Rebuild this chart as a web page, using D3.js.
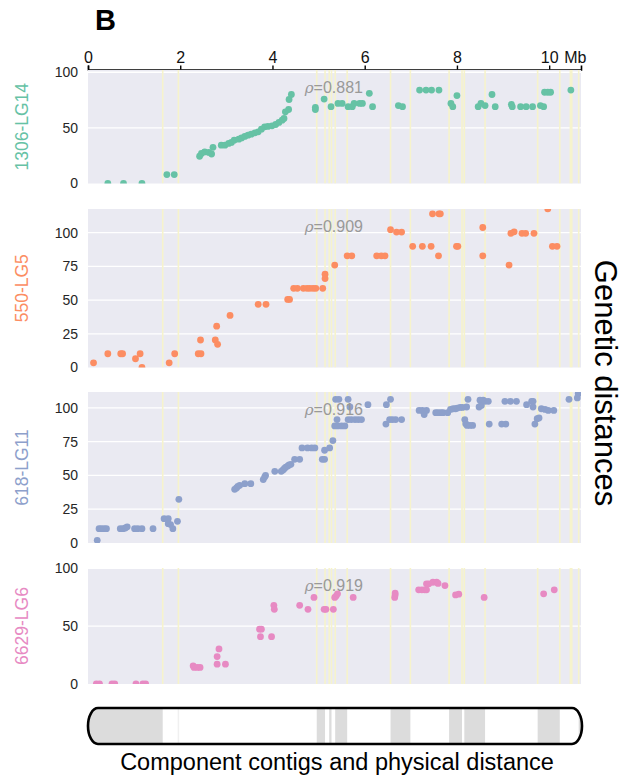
<!DOCTYPE html>
<html>
<head>
<meta charset="utf-8">
<script src="https://cdn.jsdelivr.net/npm/d3@7"></script>
<style>
  html, body { margin: 0; padding: 0; background: #fff; }
  svg { display: block; font-family: "Liberation Sans", Arial, Helvetica, sans-serif; }
</style>
</head>
<body>
<svg id="chart" width="631" height="783"></svg>
<script>
// Physical map (Mb) of the scaffold and its component contigs
const genomeLength = 10.69;
const axisTicks = [0, 2, 4, 6, 8, 10];
const contigBreaks = [1.62, 1.96, 4.96, 5.14, 5.23, 5.28, 5.36, 5.62, 6.56, 6.99,
                      7.83, 8.11, 8.16, 8.61, 9.75, 10.23, 10.46, 10.49, 10.64];
const shadedContigs = [[0, 1.62], [4.96, 5.14], [5.23, 5.28], [5.36, 5.62], [6.56, 6.99],
                       [7.83, 8.11], [8.16, 8.61], [9.75, 10.23], [10.64, 10.69]];

// Linkage groups
const groupNames = ["1306-LG14", "550-LG5", "618-LG11", "6629-LG6"];
const groupColors = ["#66c2a5", "#fc8d62", "#8da0cb", "#e78ac3"];
const groupRho = ["0.881", "0.909", "0.916", "0.919"];
const groupMax = [102, 117.5, 111.7, 100.3];
const groupTicks = [[0, 50, 100], [0, 25, 50, 75, 100], [0, 25, 50, 75, 100], [0, 50, 100]];

// Marker positions: [physical Mb, genetic cM]
const lg14 = [
  [0.43, 0], [0.77, 0], [1.17, 0], [1.71, 8], [1.87, 8],
  [2.42, 24.5], [2.46, 27], [2.53, 28.4], [2.62, 27.9], [2.68, 26.5], [2.71, 32.5],
  [2.89, 34.4], [2.97, 34.4], [3.05, 36], [3.11, 36.9], [3.17, 38.9], [3.27, 39.8],
  [3.33, 41], [3.40, 42.3], [3.47, 43.4], [3.54, 44.3], [3.62, 45.5], [3.69, 46.4],
  [3.76, 48.8], [3.83, 50.9], [3.90, 51.3], [3.99, 51.8], [4.07, 53], [4.14, 54.9],
  [4.21, 56.9], [4.25, 58.4], [4.28, 64.4], [4.35, 66.5], [4.36, 75.5], [4.41, 80],
  [4.93, 68.5], [4.93, 66.5], [5.12, 75.9], [5.27, 69], [5.42, 72], [5.51, 72],
  [5.64, 69], [5.73, 69], [5.77, 72], [5.89, 72], [5.95, 72], [6.10, 81], [6.17, 69],
  [6.73, 70], [6.82, 69], [7.19, 84], [7.33, 84], [7.45, 84], [7.61, 84],
  [7.87, 72], [7.91, 69], [8.00, 79], [8.46, 69], [8.52, 72], [8.61, 70], [8.76, 80],
  [8.83, 69], [9.18, 71], [9.20, 69], [9.38, 69], [9.50, 69], [9.64, 69], [9.81, 70],
  [9.88, 69], [9.90, 82], [9.97, 82], [10.03, 82], [10.47, 84]
];
const lg5 = [
  [0.12, 3.5], [0.43, 10.2], [0.71, 10.2], [0.75, 10.2], [1.03, 6.5], [1.13, 10.2],
  [1.17, 0], [1.76, 3.5], [1.88, 10.2], [2.39, 10.2], [2.45, 10.2], [2.44, 20.4],
  [2.76, 20.4], [2.79, 30.6], [2.81, 17.2], [3.08, 38.6], [3.69, 46.8], [3.86, 46.8],
  [4.33, 50.5], [4.37, 50.5], [4.46, 58.7], [4.54, 58.7], [4.67, 58.7], [4.75, 58.7],
  [4.81, 58.7], [4.88, 58.7], [4.94, 58.7], [5.09, 58.7], [5.14, 65.9], [5.14, 69.2],
  [5.35, 75.9], [5.62, 82.8], [5.72, 82.8], [6.26, 82.8], [6.36, 82.8], [6.44, 82.8],
  [6.56, 102.2], [6.69, 100.4], [6.80, 100.4], [7.04, 89.8], [7.25, 89.8], [7.44, 89.8],
  [7.47, 113.9], [7.61, 113.9], [7.64, 113.9], [7.60, 82.8], [7.99, 89.8], [8.02, 89.8],
  [8.56, 103.8], [8.56, 82.8], [9.13, 75.9], [9.17, 99.5], [9.24, 100.6], [9.41, 99.5],
  [9.49, 99.5], [9.67, 99.5], [9.97, 117.6], [10.07, 89.8], [10.17, 89.8]
];
const lg11 = [
  [0.20, 2], [0.24, 10.6], [0.29, 10.6], [0.35, 10.6], [0.40, 10.6],
  [0.70, 10.6], [0.76, 10.6], [0.81, 11.1], [0.85, 12], [1.01, 10.6], [1.08, 10.6],
  [1.17, 10.6], [1.41, 10.6], [1.65, 18], [1.74, 18], [1.74, 14.3], [1.79, 13.6],
  [1.84, 10.6], [1.94, 16], [1.97, 32.3],
  [3.18, 39.7], [3.22, 40.7], [3.25, 41.9], [3.29, 42.7], [3.40, 43.9], [3.53, 43.9],
  [3.80, 46.9], [3.83, 48.8], [3.85, 50], [4.05, 53], [4.19, 53], [4.23, 54],
  [4.26, 55.2], [4.29, 56.2], [4.33, 56.9], [4.36, 57.7], [4.40, 58.2], [4.48, 61.9],
  [4.59, 61.9], [4.64, 70.3], [4.76, 70.3], [4.85, 70.3], [4.92, 70.3], [5.08, 61.9],
  [5.13, 61.9], [5.13, 68.6], [5.24, 70.3], [5.31, 75.8],
  [5.35, 86.6], [5.42, 86.6], [5.50, 86.6], [5.57, 86.6], [5.37, 106.3], [5.44, 106.3],
  [5.40, 91.3], [5.64, 106.3], [5.68, 100.6], [5.64, 91.3], [5.71, 91.3], [5.79, 91.3],
  [5.86, 91.3], [5.93, 91.3], [6.07, 102.3], [6.46, 88], [6.47, 102.3], [6.56, 106.3],
  [6.54, 91.3], [6.60, 91.3], [6.67, 91.3], [6.80, 91.3], [7.18, 98.1], [7.25, 98.1],
  [7.29, 95], [7.34, 98.1], [7.54, 96.4], [7.59, 96.4], [7.65, 96.4], [7.70, 96.4],
  [7.80, 96.4], [7.86, 98.8], [7.92, 99.3], [7.97, 99.3], [8.01, 99.8], [8.07, 100.3],
  [8.12, 100.3], [8.21, 100.6], [8.17, 91.3], [8.19, 88.3], [8.22, 87], [8.28, 87],
  [8.34, 87], [8.24, 106.3], [8.48, 100.6], [8.50, 105.6], [8.57, 105.6], [8.53, 101.8],
  [8.61, 104.8], [8.68, 104.8], [8.70, 88], [8.97, 88], [9.06, 88], [9.04, 104.8],
  [9.16, 104.8], [9.29, 104.8], [9.51, 102.3], [9.62, 104.8], [9.65, 104.8],
  [9.65, 100.6], [9.69, 88], [9.74, 92], [9.78, 92.5], [9.83, 99.3], [9.91, 98.8],
  [9.98, 98.1], [10.10, 98.1], [10.43, 106.3], [10.61, 107.3], [10.63, 110.5]
];
const lg6 = [
  [0.18, 0], [0.25, 0], [0.52, 0], [0.58, 0], [1.04, 0], [1.19, 0], [1.25, 0],
  [2.28, 15.7], [2.30, 14.3], [2.37, 14.3], [2.43, 14.3], [2.80, 17.1], [2.80, 23.7],
  [2.84, 30.3], [2.98, 17.1], [3.72, 47.4], [3.76, 47.4], [3.74, 40.9], [3.98, 40.9],
  [4.03, 68], [4.04, 64.6], [4.59, 68], [4.77, 64.6], [4.90, 74.9], [5.12, 64.6],
  [5.16, 64.6], [5.32, 64.6], [5.35, 74.9], [5.38, 76], [5.41, 78], [5.75, 74.9],
  [6.65, 74.9], [6.66, 77], [6.66, 78.6], [7.17, 81.4], [7.24, 81.4], [7.30, 81.4],
  [7.34, 81.4], [7.34, 86.6], [7.39, 86.6], [7.48, 88], [7.56, 88], [7.59, 87],
  [7.74, 85.1], [7.97, 77], [8.04, 77.7], [8.59, 74.9], [9.88, 78], [10.11, 81.4]
];
const groupPoints = [lg14, lg5, lg11, lg6];

// Layout
const plotLeft = 88, plotRight = 581;
const panelBands = [[70, 183.5], [209, 367.5], [392, 543], [568, 684]];
const axisY = 69.5;

const svg = d3.select("#chart");
const x = d3.scaleLinear().domain([0, genomeLength]).range([plotLeft, plotRight]);

// Panel label "B"
svg.append("text")
  .attr("x", 95).attr("y", 30)
  .attr("font-size", 29).attr("font-weight", "bold")
  .attr("fill", "#000")
  .text("B");

// Physical distance axis along the top
const topAxis = svg.append("g")
  .attr("transform", `translate(0,${axisY})`)
  .call(d3.axisTop(x).tickValues(axisTicks).tickSize(4).tickSizeOuter(4).tickPadding(3)
    .tickFormat(d3.format("d")));
topAxis.select(".domain").attr("stroke", "#000").attr("stroke-width", 1.6);
topAxis.selectAll(".tick line").attr("stroke", "#000").attr("stroke-width", 1.4);
topAxis.selectAll(".tick text")
  .attr("font-size", 16).attr("fill", "#111")
  .attr("font-family", "Liberation Sans, Arial, sans-serif");
svg.append("text")
  .attr("x", x(10) + 15).attr("y", axisY - 7)
  .attr("font-size", 16).attr("fill", "#111")
  .text("Mb");

// One scatter panel per linkage group
groupNames.forEach((name, i) => {
  const [top, bottom] = panelBands[i];
  const y = d3.scaleLinear().domain([0, groupMax[i]]).range([bottom, top]);
  const g = svg.append("g");

  const clipId = `clip-${i}`;
  svg.append("defs").append("clipPath").attr("id", clipId)
    .append("rect")
    .attr("x", plotLeft).attr("y", top)
    .attr("width", plotRight - plotLeft).attr("height", bottom - top);

  g.append("rect")
    .attr("x", plotLeft).attr("y", top)
    .attr("width", plotRight - plotLeft).attr("height", bottom - top)
    .attr("fill", "#eaeaf2");

  // horizontal grid
  g.append("g").attr("clip-path", `url(#${clipId})`)
    .selectAll("line").data(groupTicks[i].filter(t => t > 0))
    .join("line")
    .attr("x1", plotLeft).attr("x2", plotRight)
    .attr("y1", d => y(d)).attr("y2", d => y(d))
    .attr("stroke", "#fff").attr("stroke-width", 1.3);

  // contig boundaries
  g.append("g").attr("clip-path", `url(#${clipId})`)
    .selectAll("line").data(contigBreaks)
    .join("line")
    .attr("x1", d => x(d)).attr("x2", d => x(d))
    .attr("y1", top).attr("y2", bottom)
    .attr("stroke", "#f6f3cc").attr("stroke-width", 1.6);

  // y axis labels
  const yAxis = g.append("g")
    .attr("transform", `translate(${plotLeft},0)`)
    .call(d3.axisLeft(y).tickValues(groupTicks[i]).tickSize(0).tickPadding(10));
  yAxis.select(".domain").remove();
  yAxis.selectAll(".tick text")
    .attr("font-size", 14).attr("fill", "#262626")
    .attr("font-family", "Liberation Sans, Arial, sans-serif");

  // markers
  g.append("g").attr("clip-path", `url(#${clipId})`)
    .selectAll("circle").data(groupPoints[i])
    .join("circle")
    .attr("cx", d => x(d[0])).attr("cy", d => y(d[1]))
    .attr("r", 3.4)
    .attr("fill", groupColors[i]);

  // correlation coefficient
  const rho = g.append("text")
    .attr("x", x(4.7)).attr("y", top + 23)
    .attr("font-size", 16).attr("fill", "#999");
  rho.append("tspan").attr("font-style", "italic")
    .attr("font-family", "DejaVu Serif, serif").attr("font-size", 15).text("ρ");
  rho.append("tspan").text("=" + groupRho[i]);

  // group name
  g.append("text")
    .attr("transform", `translate(${28},${(top + bottom) / 2}) rotate(-90)`)
    .attr("text-anchor", "middle")
    .attr("font-size", 17.5).attr("fill", groupColors[i])
    .text(name);
});

// Shared y title
svg.append("text")
  .attr("transform", `translate(${595},${383}) rotate(90)`)
  .attr("text-anchor", "middle")
  .attr("font-size", 31).attr("fill", "#000")
  .text("Genetic distances");

// Scaffold drawn as a chromosome with its contigs shaded
const barTop = 708, barBottom = 744, cap = 10;
const barLeft = plotLeft, barRight = plotRight + 1;
const halfH = (barBottom - barTop) / 2;
const outline = `M${barLeft + cap},${barTop}` +
  ` L${barRight - cap},${barTop}` +
  ` A${cap},${halfH} 0 0 1 ${barRight - cap},${barBottom}` +
  ` L${barLeft + cap},${barBottom}` +
  ` A${cap},${halfH} 0 0 1 ${barLeft + cap},${barTop} Z`;
svg.append("defs").append("clipPath").attr("id", "chrom-clip")
  .append("path").attr("d", outline);
const chrom = svg.append("g");
chrom.append("path").attr("d", outline).attr("fill", "#fff");
chrom.append("g").attr("clip-path", "url(#chrom-clip)")
  .selectAll("rect").data(shadedContigs)
  .join("rect")
  .attr("x", d => d[0] === 0 ? barLeft : x(d[0]))
  .attr("width", d => (d[1] >= genomeLength ? barRight : x(d[1])) - (d[0] === 0 ? barLeft : x(d[0])))
  .attr("y", barTop).attr("height", barBottom - barTop)
  .attr("fill", "#dcdcdc");
chrom.append("g").attr("clip-path", "url(#chrom-clip)")
  .selectAll("line").data([1.96])
  .join("line")
  .attr("x1", d => x(d)).attr("x2", d => x(d))
  .attr("y1", barTop).attr("y2", barBottom)
  .attr("stroke", "#f0f0f0").attr("stroke-width", 1.5);
chrom.append("path").attr("d", outline)
  .attr("fill", "none").attr("stroke", "#000").attr("stroke-width", 2.6);

svg.append("text")
  .attr("x", 337).attr("y", 770)
  .attr("text-anchor", "middle")
  .attr("font-size", 23.5).attr("fill", "#000")
  .text("Component contigs and physical distance");
</script>
</body>
</html>
